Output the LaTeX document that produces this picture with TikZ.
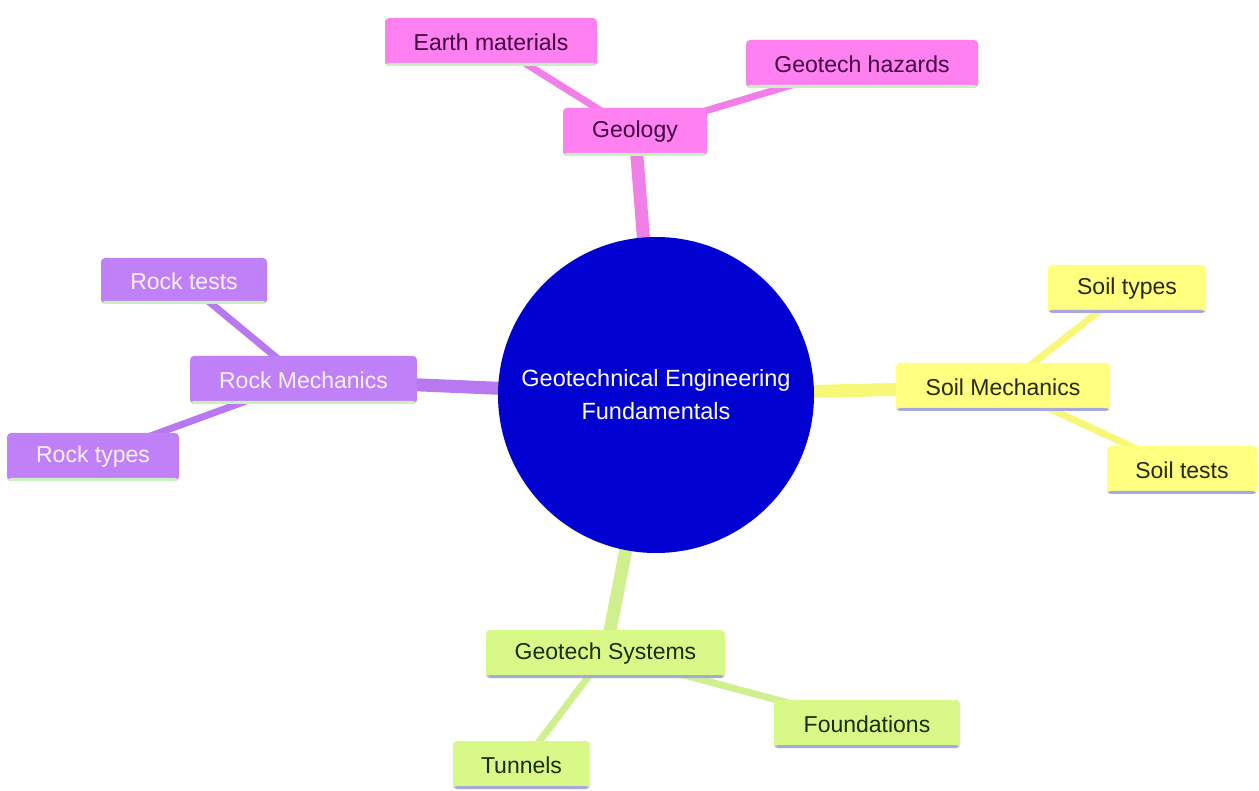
\documentclass[tikz,border=0pt]{standalone}
\usepackage{fontspec}
\setmainfont{Liberation Sans}
\usetikzlibrary{backgrounds}
\definecolor{pinkf}{HTML}{FF80F0}
\definecolor{pinke}{HTML}{F080E8}
\definecolor{pinkt}{HTML}{400040}
\definecolor{purf}{HTML}{C080F8}
\definecolor{pure}{HTML}{B878F0}
\definecolor{purt}{HTML}{FAF2FF}
\definecolor{yelf}{HTML}{FFFF80}
\definecolor{yele}{HTML}{F8F878}
\definecolor{yelt}{HTML}{282800}
\definecolor{grnf}{HTML}{D8F888}
\definecolor{grne}{HTML}{D0F090}
\definecolor{grnt}{HTML}{1C2C00}
\definecolor{blue0}{HTML}{0000D0}
\definecolor{ulgreen}{HTML}{C8F0C0}
\definecolor{ullav}{HTML}{A8A8E0}
\tikzset{
  box/.style={rectangle, rounded corners=4pt, inner sep=0pt,
    font=\fontsize{23}{27}\selectfont},
  ul/.style={path picture={\fill[#1] ([yshift=3pt]path picture bounding box.south west) rectangle (path picture bounding box.south east);}},
  geobox/.style={box, fill=pinkf, text=pinkt, ul=ulgreen},
  rockbox/.style={box, fill=purf, text=purt, ul=ulgreen},
  soilbox/.style={box, fill=yelf, text=yelt, ul=ullav},
  sysbox/.style={box, fill=grnf, text=grnt, ul=ullav},
  main/.style={line width=13pt},
  sub/.style={line width=7pt},
}
\begin{document}
\begin{tikzpicture}[x=1pt,y=-1pt]
\useasboundingbox (0,0) rectangle (1259,791);
% center
\node[circle, fill=blue0, minimum size=316pt, inner sep=0pt, text=white, align=center,
  font=\fontsize{23.5}{33}\selectfont] (c) at (656,395) {Geotechnical Engineering\\Fundamentals};
% geology
\node[geobox, minimum width=144pt, minimum height=48pt] (geo) at (635,132) {Geology};
\node[geobox, minimum width=212pt, minimum height=48pt] (earth) at (491,42) {Earth materials};
\node[geobox, minimum width=232pt, minimum height=48pt] (haz) at (862,64) {Geotech hazards};
% rock
\node[rockbox, minimum width=227pt, minimum height=48pt] (rock) at (303.5,380) {Rock Mechanics};
\node[rockbox, minimum width=166pt, minimum height=46pt] (rtests) at (184,281) {Rock tests};
\node[rockbox, minimum width=172pt, minimum height=48pt] (rtypes) at (93,457) {Rock types};
% soil
\node[soilbox, minimum width=214pt, minimum height=48pt] (soil) at (1003,387) {Soil Mechanics};
\node[soilbox, minimum width=158pt, minimum height=48pt] (stypes) at (1127,289) {Soil types};
\node[soilbox, minimum width=150pt, minimum height=48pt] (stests) at (1182,470) {Soil tests};
% systems
\node[sysbox, minimum width=239pt, minimum height=48pt] (sys) at (605.5,654) {Geotech Systems};
\node[sysbox, minimum width=186pt, minimum height=48pt] (found) at (867,724) {Foundations};
\node[sysbox, minimum width=137pt, minimum height=48pt] (tun) at (521.5,765) {Tunnels};
\begin{pgfonlayer}{background}
\draw[main, pinke] (c.center) -- (geo.center);
\draw[sub, pinke] (geo.center) -- (earth.center);
\draw[sub, pinke] (geo.center) -- (haz.center);
\draw[main, pure] (c.center) -- (rock.center);
\draw[sub, pure] (rock.center) -- (rtests.center);
\draw[sub, pure] (rock.center) -- (rtypes.center);
\draw[main, yele] (c.center) -- (soil.center);
\draw[sub, yele] (soil.center) -- (stypes.center);
\draw[sub, yele] (soil.center) -- (stests.center);
\draw[main, grne] (c.center) -- (sys.center);
\draw[sub, grne] (sys.center) -- (found.center);
\draw[sub, grne] (sys.center) -- (tun.center);
\end{pgfonlayer}
\end{tikzpicture}
\end{document}
